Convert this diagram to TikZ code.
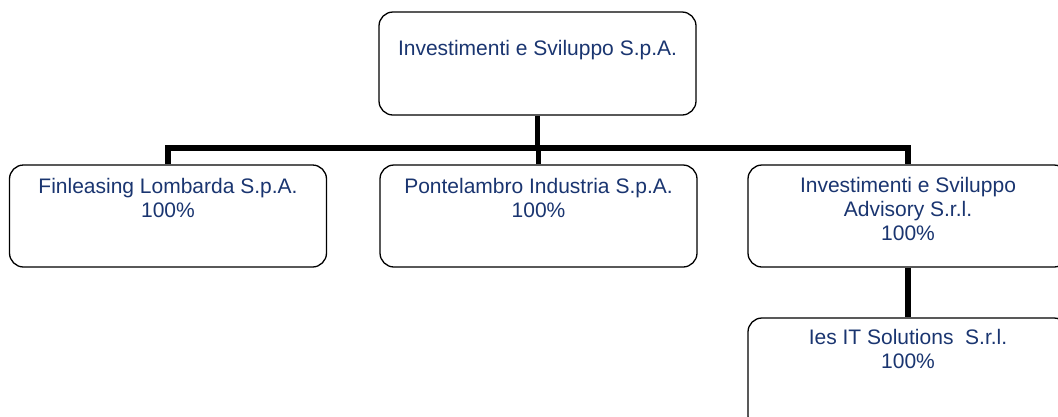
\documentclass[tikz,border=0pt]{standalone}
\usepackage{fontspec}
\setmainfont{Liberation Sans}
\definecolor{navytext}{HTML}{1A3570}
\begin{document}
\begin{tikzpicture}[x=1pt,y=-1pt,
  box/.style={draw=black, line width=1.3pt, rounded corners=14pt, minimum width=317pt, minimum height=102pt, inner sep=0pt, fill=white},
  link/.style={line width=5.5pt, line join=miter},
  lbl/.style={text=navytext, font=\fontsize{21}{24}\selectfont, align=center, inner sep=0pt, anchor=base}]
\useasboundingbox (0,0) rectangle (1058,416);
\clip (0,0) rectangle (1058,416);
\node[box, minimum height=103pt] (top) at (537.5,63.5) {};
\node[box] (fin) at (168,216) {};
\node[box] (pon) at (538.5,216) {};
\node[box, minimum width=320pt] (adv) at (908,216) {};
\node[box, minimum width=320pt, minimum height=112pt] (ies) at (908,374) {};
\coordinate (bar) at (537.5,148);
\draw[link] (top.south) -- (bar);
\draw[link] (fin.north) -- (fin.north |- bar) -- (adv.north |- bar) -- (adv.north);
\draw[link] (pon.north) -- (pon.north |- bar);
\draw[link] (adv.south) -- (ies.north);
\node[lbl] (toptxt) at (537.5,55) {Investimenti e Sviluppo S.p.A.};
\node[lbl] (fintxt) at (168,217) {Finleasing Lombarda S.p.A.\\100\%};
\node[lbl] (pontxt) at (538.5,217) {Pontelambro Industria S.p.A.\\100\%};
\node[lbl] (advtxt) at (908,240) {Investimenti e Sviluppo\\Advisory S.r.l.\\100\%};
\node[lbl] (iestxt) at (908,368) {Ies IT Solutions\ \ S.r.l.\\100\%};
\end{tikzpicture}
\end{document}
